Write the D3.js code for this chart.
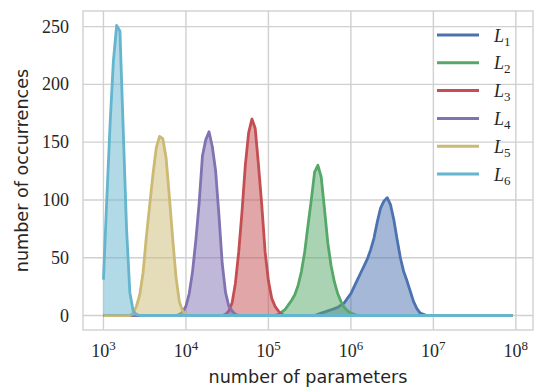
<!DOCTYPE html>
<html>
<head>
<meta charset="utf-8">
<script src="https://cdn.jsdelivr.net/npm/d3@7"></script>
<style>
  body { margin: 0; background: #fff; }
  .tick-label { font-family: 'Liberation Serif', 'DejaVu Serif', serif; font-size: 18px; fill: #262626; }
  .axis-title { font-family: 'DejaVu Sans', sans-serif; font-size: 17.6px; fill: #262626; }
</style>
</head>
<body>
<div id="chart"></div>
<script>
// bin positions (log10 of number of parameters), 0.04 decade apart
const binExponents = d3.range(125).map(i => 3 + i * 0.04);

const L1 = [
  0, 0, 0, 0, 0, 0, 0, 0, 0, 0, 0, 0, 0, 0, 0, 0, 0, 0, 0, 0, 0, 0, 0, 0, 0,
  0, 0, 0, 0, 0, 0, 0, 0, 0, 0, 0, 0, 0, 0, 0, 0, 0, 0, 0, 0, 0, 0, 0, 0, 0,
  0, 0, 0, 0, 0, 0, 0, 0, 0, 0, 0, 0, 0, 0, 0, 1, 2, 3, 4, 5, 6, 7, 9, 11, 15,
  19, 25, 31, 37, 43, 49, 57, 67, 81, 93, 99, 102, 96, 83, 66, 50, 38, 30, 21, 12, 6, 2, 1, 0, 0,
  0, 0, 0, 0, 0, 0, 0, 0, 0, 0, 0, 0, 0, 0, 0, 0, 0, 0, 0, 0, 0, 0, 0, 0, 0
];
const L2 = [
  0, 0, 0, 0, 0, 0, 0, 0, 0, 0, 0, 0, 0, 0, 0, 0, 0, 0, 0, 0, 0, 0, 0, 0, 0,
  0, 0, 0, 0, 0, 0, 0, 0, 0, 0, 0, 0, 0, 0, 0, 0, 0, 0, 0, 0, 0, 0, 0, 0, 0,
  0, 0, 0, 1, 3, 5, 9, 13, 18, 26, 38, 55, 78, 100, 124, 130, 120, 92, 63, 43, 29, 19, 12, 7, 4,
  2, 1, 0, 0, 0, 0, 0, 0, 0, 0, 0, 0, 0, 0, 0, 0, 0, 0, 0, 0, 0, 0, 0, 0, 0,
  0, 0, 0, 0, 0, 0, 0, 0, 0, 0, 0, 0, 0, 0, 0, 0, 0, 0, 0, 0, 0, 0, 0, 0, 0
];
const L3 = [
  0, 0, 0, 0, 0, 0, 0, 0, 0, 0, 0, 0, 0, 0, 0, 0, 0, 0, 0, 0, 0, 0, 0, 0, 0,
  0, 0, 0, 0, 0, 0, 0, 0, 0, 0, 0, 0, 1, 4, 11, 28, 55, 90, 130, 158, 170, 162, 130, 95, 55,
  30, 15, 8, 4, 1, 0, 0, 0, 0, 0, 0, 0, 0, 0, 0, 0, 0, 0, 0, 0, 0, 0, 0, 0, 0,
  0, 0, 0, 0, 0, 0, 0, 0, 0, 0, 0, 0, 0, 0, 0, 0, 0, 0, 0, 0, 0, 0, 0, 0, 0,
  0, 0, 0, 0, 0, 0, 0, 0, 0, 0, 0, 0, 0, 0, 0, 0, 0, 0, 0, 0, 0, 0, 0, 0, 0
];
const L4 = [
  0, 0, 0, 0, 0, 0, 0, 0, 0, 0, 0, 0, 0, 0, 0, 0, 0, 0, 0, 0, 0, 0, 0, 1, 3,
  8, 19, 38, 65, 97, 138, 152, 159, 146, 125, 87, 45, 20, 8, 4, 1, 0, 0, 0, 0, 0, 0, 0, 0, 0,
  0, 0, 0, 0, 0, 0, 0, 0, 0, 0, 0, 0, 0, 0, 0, 0, 0, 0, 0, 0, 0, 0, 0, 0, 0,
  0, 0, 0, 0, 0, 0, 0, 0, 0, 0, 0, 0, 0, 0, 0, 0, 0, 0, 0, 0, 0, 0, 0, 0, 0,
  0, 0, 0, 0, 0, 0, 0, 0, 0, 0, 0, 0, 0, 0, 0, 0, 0, 0, 0, 0, 0, 0, 0, 0, 0
];
const L5 = [
  0, 0, 0, 0, 0, 0, 0, 0, 0, 2, 8, 18, 37, 68, 95, 122, 145, 155, 153, 136, 102, 66, 33, 12, 4,
  1, 0, 0, 0, 0, 0, 0, 0, 0, 0, 0, 0, 0, 0, 0, 0, 0, 0, 0, 0, 0, 0, 0, 0, 0,
  0, 0, 0, 0, 0, 0, 0, 0, 0, 0, 0, 0, 0, 0, 0, 0, 0, 0, 0, 0, 0, 0, 0, 0, 0,
  0, 0, 0, 0, 0, 0, 0, 0, 0, 0, 0, 0, 0, 0, 0, 0, 0, 0, 0, 0, 0, 0, 0, 0, 0,
  0, 0, 0, 0, 0, 0, 0, 0, 0, 0, 0, 0, 0, 0, 0, 0, 0, 0, 0, 0, 0, 0, 0, 0, 0
];
const L6 = [
  31, 100, 165, 220, 251, 246, 160, 75, 20, 4, 1, 0, 0, 0, 0, 0, 0, 0, 0, 0, 0, 0, 0, 0, 0,
  0, 0, 0, 0, 0, 0, 0, 0, 0, 0, 0, 0, 0, 0, 0, 0, 0, 0, 0, 0, 0, 0, 0, 0, 0,
  0, 0, 0, 0, 0, 0, 0, 0, 0, 0, 0, 0, 0, 0, 0, 0, 0, 0, 0, 0, 0, 0, 0, 0, 0,
  0, 0, 0, 0, 0, 0, 0, 0, 0, 0, 0, 0, 0, 0, 0, 0, 0, 0, 0, 0, 0, 0, 0, 0, 0,
  0, 0, 0, 0, 0, 0, 0, 0, 0, 0, 0, 0, 0, 0, 0, 0, 0, 0, 0, 0, 0, 0, 0, 0, 0
];

const seriesNames = ['1', '2', '3', '4', '5', '6'];
const seriesValues = [L1, L2, L3, L4, L5, L6];
const colors = ['#4C72B0', '#55A868', '#C44E52', '#8172B2', '#CCB974', '#64B5CD'];

const xTickExponents = [3, 4, 5, 6, 7, 8];
const yTicks = [0, 50, 100, 150, 200, 250];

const width = 538;
const height = 392;
const margin = { top: 11, right: 5, bottom: 62, left: 83 };
const gridColor = '#d0d0d0';

const series = seriesNames.map((name, k) => ({
  name: name,
  values: seriesValues[k].map((v, i) => ({ x: Math.pow(10, binExponents[i]), y: v }))
}));

/* Scale */
const xScale = d3.scaleLog()
  .domain([Math.pow(10, 2.752), Math.pow(10, 8.208)])
  .range([margin.left, width - margin.right]);

const yScale = d3.scaleLinear()
  .domain([-12.55, 263.5])
  .range([height - margin.bottom, margin.top]);

/* Add SVG */
const svg = d3.select('#chart').append('svg')
  .attr('width', width)
  .attr('height', height);

// grid
const grid = svg.append('g').attr('class', 'grid');
grid.selectAll('.vgrid')
  .data(xTickExponents).enter()
  .append('line')
  .attr('x1', d => xScale(Math.pow(10, d)))
  .attr('x2', d => xScale(Math.pow(10, d)))
  .attr('y1', margin.top)
  .attr('y2', height - margin.bottom)
  .attr('stroke', gridColor)
  .attr('stroke-width', 1.4);
grid.selectAll('.hgrid')
  .data(yTicks).enter()
  .append('line')
  .attr('x1', margin.left)
  .attr('x2', width - margin.right)
  .attr('y1', d => yScale(d))
  .attr('y2', d => yScale(d))
  .attr('stroke', gridColor)
  .attr('stroke-width', 1.4);

/* Add areas and lines */
const area = d3.area()
  .x(d => xScale(d.x))
  .y0(yScale(0))
  .y1(d => yScale(d.y));

const line = d3.line()
  .x(d => xScale(d.x))
  .y(d => yScale(d.y));

const groups = svg.append('g')
  .attr('class', 'lines')
  .selectAll('.line-group')
  .data(series).enter()
  .append('g')
  .attr('class', 'line-group');

groups.append('path')
  .attr('d', d => area(d.values))
  .attr('fill', (d, i) => colors[i])
  .attr('fill-opacity', 0.5);

groups.append('path')
  .attr('d', d => line(d.values))
  .attr('fill', 'none')
  .attr('stroke', (d, i) => colors[i])
  .attr('stroke-width', 2.8)
  .attr('stroke-linejoin', 'round');

// frame
svg.append('rect')
  .attr('x', margin.left)
  .attr('y', margin.top)
  .attr('width', width - margin.left - margin.right)
  .attr('height', height - margin.top - margin.bottom)
  .attr('fill', 'none')
  .attr('stroke', gridColor)
  .attr('stroke-width', 1.4);

/* Tick labels */
svg.append('g')
  .selectAll('text')
  .data(yTicks).enter()
  .append('text')
  .attr('class', 'tick-label')
  .attr('x', 69)
  .attr('y', d => yScale(d))
  .attr('dy', '0.34em')
  .attr('text-anchor', 'end')
  .text(d => d);

const xLabels = svg.append('g')
  .selectAll('text')
  .data(xTickExponents).enter()
  .append('text')
  .attr('class', 'tick-label')
  .attr('x', d => xScale(Math.pow(10, d)))
  .attr('y', 357)
  .attr('text-anchor', 'middle');
xLabels.append('tspan').text('10');
xLabels.append('tspan')
  .attr('dy', -7)
  .attr('font-size', '13px')
  .text(d => d);

/* Axis titles */
svg.append('text')
  .attr('class', 'axis-title')
  .attr('x', (margin.left + width - margin.right) / 2)
  .attr('y', 383)
  .attr('text-anchor', 'middle')
  .text('number of parameters');

svg.append('text')
  .attr('class', 'axis-title')
  .attr('transform', `translate(28, ${(margin.top + height - margin.bottom) / 2}) rotate(-90)`)
  .attr('text-anchor', 'middle')
  .text('number of occurrences');

/* Legend */
const legend = svg.append('g')
  .selectAll('.legend-item')
  .data(series).enter()
  .append('g')
  .attr('class', 'legend-item')
  .attr('transform', (d, i) => `translate(437, ${35 + i * 27.8})`);

legend.append('line')
  .attr('x1', 0)
  .attr('x2', 42)
  .attr('stroke', (d, i) => colors[i])
  .attr('stroke-width', 3);

const legendText = legend.append('text')
  .attr('class', 'tick-label')
  .attr('x', 57)
  .attr('y', 6.5);
legendText.append('tspan')
  .attr('font-style', 'italic')
  .text('L');
legendText.append('tspan')
  .attr('dy', 4)
  .attr('font-size', '13px')
  .text(d => d.name);
</script>
</body>
</html>
